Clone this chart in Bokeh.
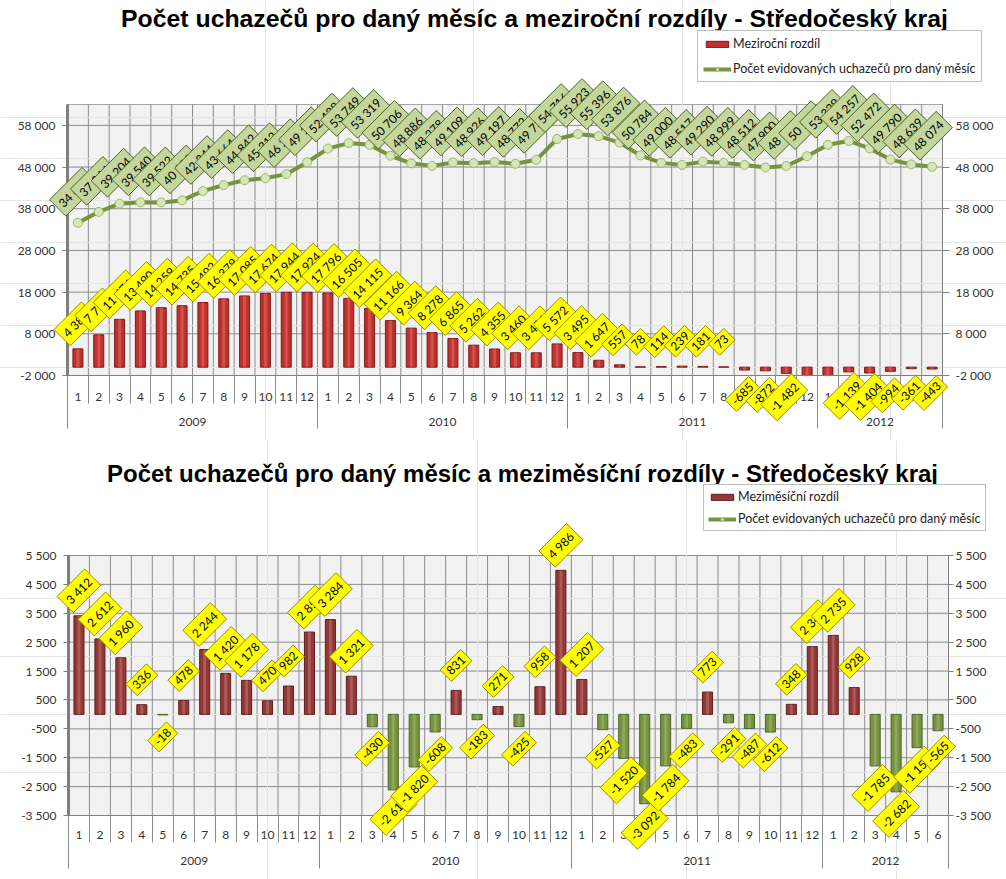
from bokeh.plotting import figure
from bokeh.models import (Range1d, LinearAxis, FixedTicker, ColumnDataSource, Label,
                          Legend, LegendItem)
from bokeh.layouts import column
from bokeh.embed import file_html
from bokeh.resources import INLINE

# ---------------- data ----------------
years = ["2009", "2010", "2011", "2012"]
year_months = [12, 12, 12, 6]
months = [str(m) for y, n in zip(years, year_months) for m in range(1, n + 1)]

# Počet evidovaných uchazečů pro daný měsíc
counts = [34632, 37244, 39204, 39540, 39522, 40000, 42244, 43664, 44842, 45312, 46294, 49144,
          52428, 53749, 53319, 50706, 48886, 48278, 49109, 48926, 49197, 48772, 49730, 54716,
          55923, 55396, 53876, 50784, 49000, 48517, 49290, 48999, 48512, 47900, 48248, 50594,
          53329, 54257, 52472, 49790, 48639, 48074]

# Meziroční rozdíl
yoy = [4387, 7753, 11476, 13490, 14259, 14735, 15492, 16379, 17085, 17674, 17944, 17924,
       17796, 16505, 14115, 11166, 9364, 8278, 6865, 5262, 4355, 3460, 3436, 5572,
       3495, 1647, 557, 78, 114, 239, 181, 73, -685, -872, -1482, -4122,
       -2594, -1139, -1404, -994, -361, -443]

# Meziměsíční rozdíl
mom = [3412, 2612, 1960, 336, -18, 478, 2244, 1420, 1178, 470, 982, 2850,
       3284, 1321, -430, -2613, -1820, -608, 831, -183, 271, -425, 958, 4986,
       1207, -527, -1520, -3092, -1784, -483, 773, -291, -487, -612, 348, 2346,
       2735, 928, -1785, -2682, -1151, -565]

top_ticks = [-2000, 8000, 18000, 28000, 38000, 48000, 58000]
top_range = (-2000, 63000)
bottom_ticks = [-3500, -2500, -1500, -500, 500, 1500, 2500, 3500, 4500, 5500]
bottom_range = (-3500, 5500)

title_top = "Počet uchazečů pro daný měsíc a meziroční rozdíly - Středočeský kraj"
title_bottom = "Počet uchazečů pro daný měsíc a meziměsíční rozdíly - Středočeský kraj"
legend_bar_top = "Meziroční rozdíl"
legend_bar_bottom = "Meziměsíční rozdíl"
legend_line = "Počet evidovaných uchazečů pro daný měsíc"

# ---------------- helpers ----------------
N = len(months)
xs = list(range(1, N + 1))
X0, X1 = 0.5, N + 0.5
bounds = [i + 0.5 for i in range(0, N + 1)]
ybounds = [0.5]
ycenters = []
acc = 0
for n in year_months:
    ycenters.append(acc + n / 2 + 0.5)
    acc += n
    ybounds.append(acc + 0.5)

W = 1006
FONT = "Lato"
GRID = "#8C8C8C"
RED = "#C0302C"
MAROON = "#953735"
GREEN = "#77933C"
TXT = "#333333"


def fmt(v):
    return f"{v:,}".replace(",", " ")


class Frame:
    """Maps the plot area (in page pixels of this figure) onto data ranges."""

    def __init__(self, H, left, right, top, bottom, yr):
        self.H, self.left, self.bottom = H, left, bottom
        self.y0, self.y1 = yr
        self.sx = (right - left) / (X1 - X0)
        self.sy = (bottom - top) / (self.y1 - self.y0)
        self.xr = Range1d(X0 - left / self.sx, X1 + (W - right) / self.sx)
        self.yr = (self.y0 - (H - bottom) / self.sy, self.y1 + top / self.sy)

    def px(self, x, y):
        return X0 + (x - self.left) / self.sx, self.y0 + (self.bottom - y) / self.sy


def make_label(x, y, text, dx, dy, fill, border, yname="default"):
    kw = dict(x=x, y=y, text=text, x_offset=dx, y_offset=dy, y_range_name=yname,
              angle=45, angle_units="deg", text_align="center", text_baseline="middle",
              text_font=FONT, text_font_size="12px", text_color="black",
              background_fill_color=fill, border_line_color=border, border_line_width=1)
    try:
        return Label(padding=4, **kw)
    except AttributeError:
        kw["text"] = "\u2002" + text + "\u2002"
        return Label(**kw)


def chart(fr, yticks, ttext, tpos, tsize, r_out, r_stand, ax):
    p = figure(width=W, height=fr.H, x_range=fr.xr, y_range=Range1d(*fr.yr),
               output_backend="svg", toolbar_location=None,
               x_axis_location=None, y_axis_location=None,
               min_border=0, outline_line_color=None,
               background_fill_color="white", border_fill_color="white")
    p.extra_y_ranges = {"sec": Range1d(*fr.yr)}
    # plot area and its grid lines
    area = p.quad(left=X0, right=X1, bottom=fr.y0, top=fr.y1,
                  fill_color="#F2F2F2", line_color="#A6A6A6", line_width=1)
    area.level = "image"
    vg = p.segment(x0=bounds, x1=bounds, y0=[fr.y0] * len(bounds), y1=[fr.y1] * len(bounds),
                   line_color=GRID, line_width=1)
    vg.level = "underlay"
    hg = p.segment(x0=[X0] * len(yticks), x1=[X1] * len(yticks), y0=yticks, y1=yticks,
                   line_color=GRID, line_width=1)
    hg.level = "underlay"

    common = dict(major_label_text_font=FONT, major_label_text_font_size="12px",
                  major_label_text_color=TXT, minor_tick_line_color=None,
                  bounds=(fr.y0, fr.y1))
    yl = LinearAxis(ticker=FixedTicker(ticks=yticks), fixed_location=X0,
                    major_label_overrides={t: fmt(t) for t in yticks},
                    axis_line_color="#7F7F7F", axis_line_width=3,
                    major_tick_out=5, major_tick_in=0, major_tick_line_color="#7F7F7F",
                    major_label_standoff=7, **common)
    p.add_layout(yl, "left")
    yrr = LinearAxis(y_range_name="sec", ticker=FixedTicker(ticks=yticks), fixed_location=X1,
                     major_label_overrides={t: fmt(t) for t in yticks},
                     axis_line_color="#7F7F7F",
                     major_tick_out=r_out, major_tick_in=0, major_tick_line_color="#7F7F7F",
                     major_label_standoff=r_stand, **common)
    p.add_layout(yrr, "right")

    m_out, m_st, y_out, y_st = ax
    xm = LinearAxis(ticker=FixedTicker(ticks=xs, minor_ticks=bounds), fixed_location=fr.y0,
                    major_label_overrides={i: m for i, m in zip(xs, months)},
                    major_tick_out=0, major_tick_in=0, major_tick_line_color=None,
                    minor_tick_out=m_out, minor_tick_in=0, minor_tick_line_color=GRID,
                    axis_line_color="#7F7F7F", major_label_standoff=m_st, bounds=(X0, X1),
                    major_label_text_font=FONT, major_label_text_font_size="12px",
                    major_label_text_color=TXT)
    p.add_layout(xm, "below")
    xy = LinearAxis(ticker=FixedTicker(ticks=ycenters, minor_ticks=ybounds),
                    fixed_location=fr.y0,
                    major_label_overrides={c: y for c, y in zip(ycenters, years)},
                    major_tick_out=0, major_tick_in=0, major_tick_line_color=None,
                    minor_tick_out=y_out, minor_tick_in=0, minor_tick_line_color=GRID,
                    axis_line_color=None, major_label_standoff=y_st, bounds=(X0, X1),
                    major_label_text_font=FONT, major_label_text_font_size="12px",
                    major_label_text_color=TXT)
    p.add_layout(xy, "below")

    tx, ty = fr.px(*tpos)
    p.add_layout(Label(x=tx, y=ty, text=ttext, text_align="center", text_baseline="middle",
                       text_font="Liberation Sans", text_font_size=tsize,
                       text_font_style="bold", text_color="black"))
    return p


def add_line(p):
    src = ColumnDataSource(dict(x=xs, y=counts))
    l = p.line("x", "y", source=src, y_range_name="sec", line_color=GREEN, line_width=4)
    s = p.scatter("x", "y", source=src, y_range_name="sec", size=9, marker="circle",
                  fill_color="#D7E4BD", line_color="#9BBB59", line_width=1)
    return [l, s]


def add_legend(p, items, loc, spacing, padding):
    lg = Legend(items=items, location=loc, orientation="vertical",
                glyph_width=28, glyph_height=8, label_height=14, spacing=spacing,
                padding=padding, margin=0, label_standoff=2,
                label_text_font=FONT, label_text_font_size="12.5px",
                label_text_color="#222222",
                border_line_color="#7F7F7F", border_line_width=1,
                background_fill_color="white", background_fill_alpha=1)
    p.add_layout(lg, "center")


# ---------------- top chart ----------------
f1 = Frame(440, 67, 942, 104, 375, top_range)
p1 = chart(f1, top_ticks, title_top, (534, 18), "24.8px", 7, 6, (28, -11, 53, -11))
bar_src1 = ColumnDataSource(dict(x=xs, top=[max(v, f1.y0) for v in yoy]))
b1 = p1.vbar(x="x", top="top", bottom=0, width=0.48, source=bar_src1,
             fill_color=RED, line_color="#7A1A17", line_width=1)
p1.vbar(x="x", top="top", bottom=0, width=0.14, source=bar_src1,
        fill_color="#E87A74", fill_alpha=0.45, line_color=None)
line1 = add_line(p1)
for x, v in zip(xs, yoy):
    if v >= f1.y0:
        p1.add_layout(make_label(x, v, fmt(v), -2, 25 if v >= 0 else -24,
                                 "#FFFF00", "#9C8A00"))
for x, v in zip(xs, counts):
    p1.add_layout(make_label(x, v, fmt(v), -4, 31, "#C3D69B", "#4F6228", "sec"))
add_legend(p1, [LegendItem(label=legend_bar_top, renderers=[b1]),
                LegendItem(label=legend_line, renderers=line1)], (697, 440 - 82), 10, 5)

# ---------------- bottom chart ----------------
f2 = Frame(439, 68, 948, 115, 375, bottom_range)
p2 = chart(f2, bottom_ticks, title_bottom, (522, 33), "24px", 5, 2, (27, -12, 53, -12))
bar_src2 = ColumnDataSource(dict(x=xs, top=mom,
                                 c=[MAROON if v >= 0 else GREEN for v in mom],
                                 lc=["#5E1F1E" if v >= 0 else "#4F6228" for v in mom]))
b2 = p2.vbar(x="x", top="top", bottom=0, width=0.48, source=bar_src2,
             fill_color="c", line_color="lc", line_width=1)
p2.vbar(x="x", top="top", bottom=0, width=0.14, source=bar_src2,
        fill_color="white", fill_alpha=0.18, line_color=None)
line2 = add_line(p2)
for x, v in zip(xs, mom):
    p2.add_layout(make_label(x, v, fmt(v), 0, 25 if v >= 0 else -22, "#FFFF00", "#9C8A00"))
add_legend(p2, [LegendItem(label=legend_bar_bottom, renderers=[b2], index=0),
                LegendItem(label=legend_line, renderers=line2)], (703, 439 - 91), 7, 4)

layout = column(p1, p2, spacing=0)
open("out.html", "w").write(file_html(layout, INLINE))
